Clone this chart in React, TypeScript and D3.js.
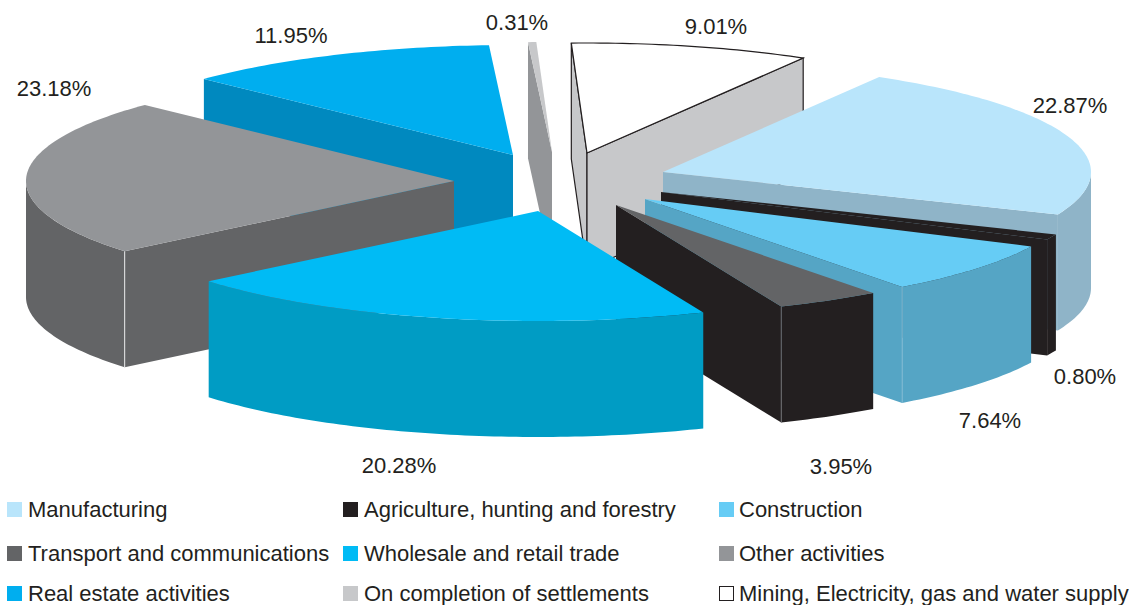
import React from "react";
import * as d3 from "d3";

const categories = [
  "Mining, Electricity, gas and water supply",
  "Manufacturing",
  "Agriculture, hunting and forestry",
  "Construction",
  "Transport and communications",
  "Wholesale and retail trade",
  "Other activities",
  "Real estate activities",
  "On completion of settlements",
];
const values = [9.01, 22.87, 0.8, 7.64, 3.95, 20.28, 23.18, 11.95, 0.31];
const topColors = ["#FFFFFF", "#B9E5FB", "#231F20", "#66CCF5", "#636466", "#00BBF5", "#939598", "#00AEEF", "#C7C8CA"];
const sideColors = ["#C7C8CA", "#8FB4C8", "#231F20", "#55A5C5", "#231F20", "#009CC4", "#636466", "#0089BF", "#939598"];

// Layout only: where each exploded slice's tip sits, and the painting order.
const tipX = [587, 663, 661, 645, 616, 538, 454, 513, 552];
const tipY = [153, 172, 192, 199, 205, 211, 181, 155, 152];
const paintOrder = [0, 8, 7, 6, 1, 2, 3, 4, 5];
const cornerLines = ["", "", "", "#7FB8D2", "#6D6E71", "", "#E6E7E8", "", ""];

const labelText = ["9.01%", "22.87%", "0.80%", "7.64%", "3.95%", "20.28%", "23.18%", "11.95%", "0.31%"];
const labelX = [716, 1070, 1085, 990, 841, 399, 54, 291, 517];
const labelY = [34, 113, 384, 428, 474, 473, 96, 43, 30];

const legendRows = [
  ["Manufacturing", "Agriculture, hunting and forestry", "Construction"],
  ["Transport and communications", "Wholesale and retail trade", "Other activities"],
  ["Real estate activities", "On completion of settlements", "Mining, Electricity, gas and water supply"],
];
const legendColX = [7, 343, 719];
const legendRowY = [502, 546, 586];

const W = 1139;
const H = 605;
const DEPTH = 116;
const RX = 428;
const RY = 110;
const FONT = "'Liberation Sans', Arial, sans-serif";
const INK = "#231F20";
const START = (-2.1 * Math.PI) / 180;

const px = d3.scaleLinear().domain([-1, 1]).range([-RX, RX]);
const py = d3.scaleLinear().domain([-1, 1]).range([RY, -RY]);
const pie = d3
  .pie<number>()
  .sort(null)
  .startAngle(START)
  .endAngle(START + 2 * Math.PI);
const line = d3.line();

type P = [number, number];

function rimPoints(i: number, a0: number, a1: number, dy = 0): P[] {
  const n = Math.max(2, Math.ceil(((a1 - a0) * 180) / Math.PI));
  return d3.range(n + 1).map((k) => {
    const a = a0 + ((a1 - a0) * k) / n;
    return [tipX[i] + px(Math.sin(a)), tipY[i] + py(Math.cos(a)) + dy] as P;
  });
}

function Slice({ i, a0, a1 }: { i: number; a0: number; a1: number }) {
  const tip: P = [tipX[i], tipY[i]];
  const low: P = [tipX[i], tipY[i] + DEPTH];
  const rim = rimPoints(i, a0, a1);
  const first = rim[0];
  const last = rim[rim.length - 1];
  const isMining = i === 0;
  const stroke = isMining ? INK : "none";
  const sw = isMining ? 1.2 : 0;

  const walls: P[][] = [];
  if (Math.sin(a0) < 0) walls.push([first, tip, low, [first[0], first[1] + DEPTH]]);
  if (Math.sin(a1) > 0) walls.push([last, tip, low, [last[0], last[1] + DEPTH]]);

  const from = Math.max(a0, Math.PI / 2);
  const to = Math.min(a1, (3 * Math.PI) / 2);
  let outer: P[] | null = null;
  if (to > from) {
    const u = rimPoints(i, from, to);
    const d = rimPoints(i, from, to, DEPTH).reverse();
    outer = [...u, ...d];
  }
  const corner = Math.sin(a1) > 0 ? last : first;

  return (
    <g>
      {walls.map((w, k) => (
        <path key={k} d={line(w) + "Z"} fill={sideColors[i]} stroke={stroke} strokeWidth={sw} />
      ))}
      {outer && <path d={line(outer) + "Z"} fill={sideColors[i]} />}
      {cornerLines[i] && (
        <line x1={corner[0]} x2={corner[0]} y1={corner[1]} y2={corner[1] + DEPTH} stroke={cornerLines[i]} strokeWidth={1} />
      )}
      <path d={line([tip, ...rim]) + "Z"} fill={topColors[i]} stroke={stroke} strokeWidth={sw} />
    </g>
  );
}

export default function App() {
  const arcs = pie(values);
  return (
    <svg width={W} height={H} viewBox={`0 0 ${W} ${H}`} style={{ position: "absolute", left: 0, top: 0, background: "#fff" }}>
      {paintOrder.map((i) => (
        <Slice key={i} i={i} a0={arcs[i].startAngle} a1={arcs[i].endAngle} />
      ))}
      {labelText.map((t, i) => (
        <text key={t} x={labelX[i]} y={labelY[i]} textAnchor="middle" fontFamily={FONT} fontSize={22} fill={INK}>
          {t}
        </text>
      ))}
      {legendRows.map((row, r) =>
        row.map((name, c) => {
          const i = categories.indexOf(name);
          const white = topColors[i] === "#FFFFFF";
          return (
            <g key={name}>
              <rect
                x={legendColX[c] + (white ? 0.5 : 0)}
                y={legendRowY[r] + (white ? 0.5 : 0)}
                width={white ? 14 : 15}
                height={white ? 14 : 15}
                fill={topColors[i]}
                stroke={white ? INK : "none"}
                strokeWidth={white ? 1 : 0}
              />
              <text x={legendColX[c] + (c === 2 ? 20 : 21)} y={legendRowY[r] + 15} fontFamily={FONT} fontSize={22} fill={INK}>
                {name}
              </text>
            </g>
          );
        })
      )}
    </svg>
  );
}
